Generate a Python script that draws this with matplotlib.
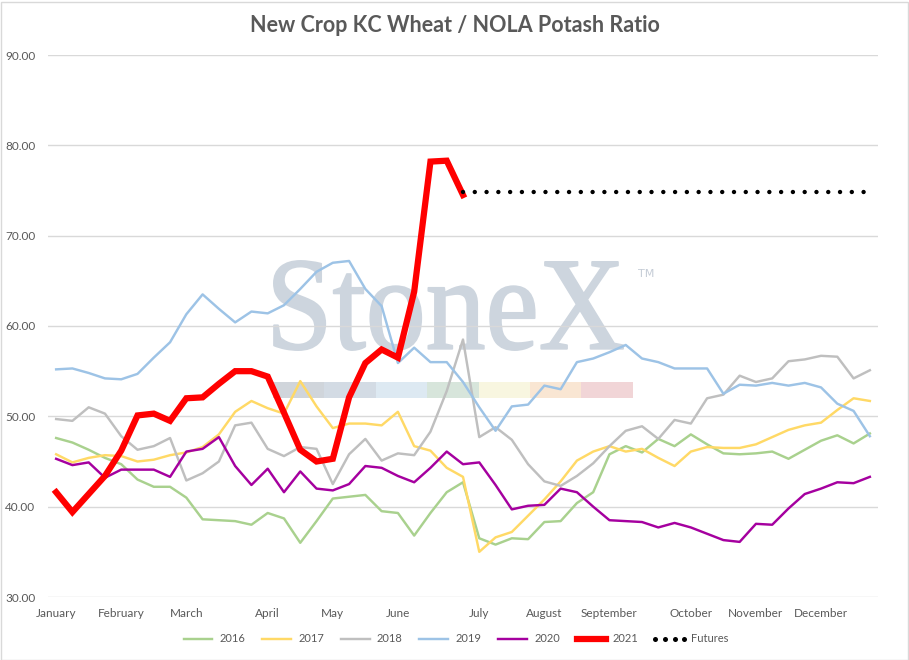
import matplotlib
matplotlib.use("Agg")
import matplotlib.pyplot as plt
from matplotlib.textpath import TextPath
from matplotlib.font_manager import FontProperties
from matplotlib.patches import PathPatch, Rectangle
from matplotlib.lines import Line2D
from matplotlib.transforms import Affine2D, IdentityTransform

# ---------------- data ----------------
months = ["January", "February", "March", "April", "May", "June", "July",
          "August", "September", "October", "November", "December"]
month_weeks = [0, 4, 8, 13, 17, 21, 26, 30, 34, 39, 43, 47]
n_weeks = 51

s2016 = [47.6, 47.1, 46.3, 45.4, 44.7, 43.0, 42.2, 42.2, 41.0, 38.6, 38.5, 38.4, 38.0,
         39.3, 38.7, 36.0, 38.4, 40.9, 41.1, 41.3, 39.5, 39.3, 36.8, 39.3, 41.6, 42.7,
         36.5, 35.8, 36.5, 36.4, 38.3, 38.4, 40.4, 41.6, 45.8, 46.7, 46.0, 47.5, 46.7,
         48.0, 46.9, 45.9, 45.8, 45.9, 46.1, 45.3, 46.3, 47.3, 47.9, 47.0, 48.1]
s2017 = [45.8, 44.9, 45.4, 45.7, 45.6, 45.0, 45.2, 45.7, 46.0, 46.6, 48.0, 50.5, 51.7,
         50.9, 50.3, 53.9, 51.1, 48.7, 49.2, 49.2, 49.0, 50.5, 46.7, 46.2, 44.3, 43.3,
         35.0, 36.6, 37.2, 39.0, 40.8, 42.8, 45.1, 46.1, 46.7, 46.1, 46.4, 45.4, 44.5,
         46.1, 46.6, 46.5, 46.5, 46.9, 47.7, 48.5, 49.0, 49.3, 50.7, 52.0, 51.7]
s2018 = [49.7, 49.5, 51.0, 50.3, 47.8, 46.3, 46.7, 47.6, 42.9, 43.7, 45.0, 49.0, 49.3,
         46.4, 45.6, 46.6, 46.4, 42.5, 45.8, 47.5, 45.1, 45.9, 45.7, 48.3, 52.8, 58.5,
         47.7, 48.8, 47.4, 44.7, 42.8, 42.3, 43.4, 44.8, 46.7, 48.4, 48.9, 47.5, 49.6,
         49.2, 52.0, 52.4, 54.5, 53.8, 54.2, 56.1, 56.3, 56.7, 56.6, 54.2, 55.1]
s2019 = [55.2, 55.3, 54.8, 54.2, 54.1, 54.7, 56.5, 58.2, 61.3, 63.5, 61.9, 60.4, 61.6,
         61.4, 62.3, 64.1, 66.0, 67.0, 67.2, 64.1, 62.2, 55.9, 57.6, 56.0, 56.0, 53.8,
         51.0, 48.4, 51.1, 51.3, 53.4, 53.0, 56.0, 56.4, 57.1, 57.9, 56.4, 56.0, 55.3,
         55.3, 55.3, 52.5, 53.5, 53.4, 53.7, 53.4, 53.7, 53.2, 51.4, 50.6, 47.8]
s2020 = [45.3, 44.6, 44.9, 43.2, 44.1, 44.1, 44.1, 43.3, 46.1, 46.4, 47.7, 44.5, 42.4,
         44.2, 41.6, 43.9, 42.0, 41.8, 42.5, 44.5, 44.3, 43.4, 42.7, 44.3, 46.1, 44.7,
         44.9, 42.4, 39.7, 40.1, 40.2, 42.0, 41.6, 40.0, 38.5, 38.4, 38.3, 37.7, 38.2,
         37.7, 37.0, 36.3, 36.1, 38.1, 38.0, 39.8, 41.4, 42.0, 42.7, 42.6, 43.3]
s2021 = [41.6, 39.4, 41.4, 43.4, 46.2, 50.1, 50.3, 49.5, 52.0, 52.1, 53.6, 55.0, 55.0,
         54.4, 50.4, 46.3, 45.0, 45.3, 52.1, 55.9, 57.4, 56.5, 63.8, 78.2, 78.3, 74.5]
futures_start = 25
futures_value = 74.8
futures = [futures_value] * (n_weeks - futures_start)

yticks = [30, 40, 50, 60, 70, 80, 90]

# ---------------- figure ----------------
W, H = 909, 660
fig = plt.figure(figsize=(W / 100, H / 100), dpi=100)
fig.patch.set_facecolor("white")
ax = fig.add_axes([48 / W, 1 - 597 / H, (878 - 48) / W, (597 - 55) / H])

txt = "#595959"
font = "Lato"

weeks = list(range(n_weeks))
ax.plot(weeks[:len(s2016)], s2016, color="#a9d18e", lw=1.75, label="2016", zorder=3)
ax.plot(weeks[:len(s2017)], s2017, color="#ffd966", lw=1.75, label="2017", zorder=3)
ax.plot(weeks[:len(s2018)], s2018, color="#bfbfbf", lw=1.75, label="2018", zorder=3)
ax.plot(weeks[:len(s2019)], s2019, color="#9dc3e6", lw=1.75, label="2019", zorder=3)
ax.plot(weeks[:len(s2020)], s2020, color="#a5009f", lw=1.75, label="2020", zorder=3)
ax.plot(weeks[:len(s2021)], s2021, color="#ff0000", lw=4.5, label="2021", zorder=4,
        solid_joinstyle="miter")
ax.plot(weeks[futures_start:], futures, color="black", lw=3.2,
        linestyle=(0, (0.001, 2.65)), dash_capstyle="round", label="Futures", zorder=4)

ax.set_xlim(-0.5, n_weeks - 0.5)
ax.set_ylim(30, 90)
ax.set_yticks(yticks)
ax.set_yticklabels([f"{v:.2f}" for v in yticks])
ax.set_xticks(month_weeks)
ax.set_xticklabels(months)
ax.tick_params(axis="both", length=0, labelsize=8.5, labelcolor=txt)
ax.tick_params(axis="y", pad=9)
ax.tick_params(axis="x", pad=8)
for lab in ax.get_xticklabels() + ax.get_yticklabels():
    lab.set_fontfamily(font)
ax.grid(axis="y", color="#d9d9d9", lw=1.0)
ax.set_axisbelow(True)
for s in ax.spines.values():
    s.set_visible(False)

# ---------------- watermark ----------------
fp = FontProperties(family="Liberation Serif")
tp = TextPath((0, 0), "StoneX", size=1, prop=fp)
ext = tp.get_extents()
x0, x1 = 274, 623
ytop, ybot = 261, 350
sx = (x1 - x0) / ext.width
sy = (ybot - ytop) / ext.height
tr = Affine2D().translate(-ext.x0, -ext.y0).scale(sx, sy).translate(x0, H - ybot)
wm = PathPatch(tr.transform_path(tp), facecolor="#cdd5de", edgecolor="#cdd5de",
               lw=1.4, joinstyle="round", transform=IdentityTransform(), zorder=0.4)
ax.add_patch(wm)
ax.text(638 / W, 1 - 274 / H, "TM", transform=fig.transFigure, fontsize=8,
        color="#c5ccd6", family="DejaVu Sans", va="center", ha="left", zorder=0.4)

bar_colors = ["#d0d5db", "#d3dbe4", "#dde9f2", "#d7e5db", "#f8f6e0", "#f9e6d3", "#f1d5d7"]
bx0, bw, by0, bh = 273, 51.4, 382, 16
for k, c in enumerate(bar_colors):
    ax.add_patch(Rectangle((bx0 + k * bw, H - by0 - bh), bw, bh, facecolor=c,
                           edgecolor="none", transform=IdentityTransform(), zorder=0.4))

# ---------------- title & legend ----------------
fig.text(0.5, 1 - 26 / H, "New Crop KC Wheat / NOLA Potash Ratio", ha="center",
         va="center", fontsize=15.5, fontweight="bold", color=txt, family=font)

handles, labels = ax.get_legend_handles_labels()
handles[-1] = Line2D([], [], color="black", ls="none", marker="o", markersize=3.6,
                     markeredgewidth=0)
leg = fig.legend(handles, labels, loc="center", bbox_to_anchor=(0.5, 1 - 639 / H),
                 ncol=7, frameon=False, handlelength=3.2, handletextpad=0.35,
                 columnspacing=1.2, numpoints=4, prop={"family": font, "size": 8})
for t in leg.get_texts():
    t.set_color(txt)

# chart border
fig.add_artist(Rectangle((0.5 / W, 0.5 / H), (W - 2) / W, (H - 2) / H,
                         transform=fig.transFigure, fill=False,
                         edgecolor="#d9d9d9", lw=1.0))

fig.savefig("out.png", dpi=100, facecolor="white")
